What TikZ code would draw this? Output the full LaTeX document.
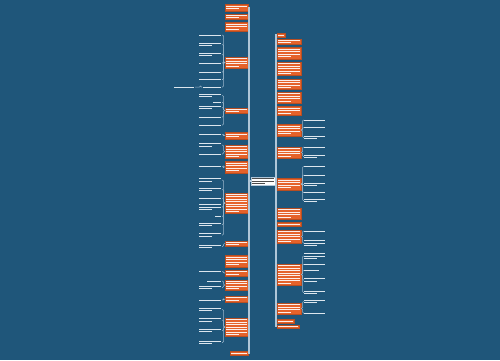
\documentclass[tikz,border=0pt]{standalone}
\usetikzlibrary{calc}
\definecolor{bg}{HTML}{1F567A}
\definecolor{org}{HTML}{E5622A}
\definecolor{trk}{HTML}{AFC6D8}
\definecolor{lt}{HTML}{DCE6EE}
\tikzset{
 onode/.style={fill=org, draw=org!80!black, line width=0.3pt, inner sep=0pt, outer sep=0pt},
 lnode/.style={inner sep=0pt, outer sep=0pt},
 cnode/.style={fill=white, draw=trk, line width=0.4pt, inner sep=0pt, outer sep=0pt},
 trunk/.style={draw=trk, line width=1.3pt},
 brk/.style={draw=trk!85!bg, line width=0.5pt, rounded corners=1pt},
 tline/.style={line width=0.75pt},
}
% text-like stripes: x1 y1 x2 y2 colour
\newcommand\tlns[5]{%
 \pgfmathtruncatemacro\tlN{max(1,round((#4-#2-1)/2.5))}%
 \pgfmathsetmacro\tlS{#2+((#4-#2)-(\tlN-1)*2.5)/2}%
 \foreach \k in {1,...,\tlN}{%
   \pgfmathsetmacro\tlY{\tlS+(\k-1)*2.5}%
   \pgfmathsetmacro\tlE{#3-1.4}%
   \ifnum\k=\tlN\relax\ifnum\tlN>1\relax\pgfmathsetmacro\tlE{#1+1.4+(#3-#1-2.8)*0.6}\fi\fi
   \draw[tline, #5] (#1+1.4,\tlY) -- (\tlE,\tlY);
 }}
\newcommand\onode[5]{%
 \node[onode, minimum width={#4-#2}, minimum height={#5-#3}] (#1) at ({(#2+#4)/2},{(#3+#5)/2}) {};
 \tlns{#2}{#3}{#4}{#5}{white!90!org}}
\newcommand\lleaf[6]{%
 \node[lnode, minimum width={#5-#3}, minimum height={#6-#4}] (#2) at ({(#3+#5)/2},{(#4+#6)/2}) {};
 \draw[brk] (#1.west) -- ++(-1.5,0) |- (#2.east);
 \tlns{#3}{#4}{#5}{#6}{lt}}
\newcommand\rleaf[6]{%
 \node[lnode, minimum width={#5-#3}, minimum height={#6-#4}] (#2) at ({(#3+#5)/2},{(#4+#6)/2}) {};
 \draw[brk] (#1.east) -- ++(1.5,0) |- (#2.west);
 \tlns{#3}{#4}{#5}{#6}{lt}}
\begin{document}
\begin{tikzpicture}[x=1pt,y=-1pt]
\fill[bg] (0,0) rectangle (500,360);
\useasboundingbox (0,0) rectangle (500,360);

% centre
\node[cnode, minimum width=24, minimum height=8] (C) at (263,181) {};
\tlns{251}{177}{275}{185}{black!70}
\coordinate (LT) at (249,181);
\coordinate (RT) at (276,181);

% left main branches
\onode{O1}{225}{4}{248}{11}
\onode{O2}{225}{14}{248}{19}
\onode{O3}{225}{22}{248}{31}
\onode{O4}{225}{57}{248}{68}
\onode{O5}{225}{108}{248}{113}
\onode{O6}{225}{132}{248}{139}
\onode{O7}{225}{145}{248}{158}
\onode{O8}{225}{161}{248}{173}
\onode{O9}{225}{193}{248}{213}
\onode{O10}{225}{241}{248}{246}
\onode{O11}{225}{255}{248}{267}
\onode{O12}{225}{270}{248}{276}
\onode{O13}{225}{280}{248}{290}
\onode{O14}{225}{296}{248}{302}
\onode{O15}{225}{318}{248}{336}
\onode{O16}{230}{351}{248}{355}

% right main branches
\onode{R0}{277}{33}{285}{37}
\onode{R1}{277}{39}{301}{44}
\onode{R2}{277}{47}{301}{59}
\onode{R3}{277}{62}{301}{75}
\onode{R4}{277}{79}{301}{89}
\onode{R5}{277}{92}{301}{103}
\onode{R6}{277}{106}{301}{115}
\onode{R7}{277}{124}{301}{136}
\onode{R8}{277}{147}{301}{158}
\onode{R9}{277}{178}{301}{190}
\onode{R10}{277}{208}{301}{219}
\onode{R11}{277}{222}{301}{226}
\onode{R12}{277}{230}{301}{243}
\onode{R13}{277}{264}{301}{285}
\onode{R14}{277}{303}{301}{314}
\onode{R15}{277}{319}{294}{323}
\onode{R16}{277}{325}{299}{328}

% trunks
\draw[trunk] (C.west) -- (LT);
\draw[trunk] (C.east) -- (RT);
\foreach \o in {O1,O2,O3,O4,O5,O6,O7,O8,O9,O10,O11,O12,O13,O14,O15,O16}
  \draw[trunk] (LT) |- (\o.east);
\foreach \o in {R0,R1,R2,R3,R4,R5,R6,R7,R8,R9,R10,R11,R12,R13,R14,R15,R16}
  \draw[trunk] (RT) |- (\o.west);

% left leaves
\lleaf{O4}{L4a}{198}{33}{222}{37}
\lleaf{O4}{L4b}{198}{42}{222}{47}
\lleaf{O4}{L4c}{198}{52}{222}{57}
\lleaf{O4}{L4d}{198}{61}{222}{65}
\lleaf{O4}{L4e}{198}{70}{222}{74}
\lleaf{O4}{L4f}{198}{78}{222}{81}
\lleaf{O4}{L4g}{202}{85}{222}{89}
\lleaf{L4g}{L4h}{173}{85.5}{195}{88.5}

\lleaf{O5}{L5a}{198}{93}{222}{98}
\lleaf{O5}{L5b}{212}{101}{222}{103.5}
\lleaf{O5}{L5c}{198}{105}{222}{110}
\lleaf{O5}{L5d}{198}{115}{222}{119}
\lleaf{O5}{L5e}{198}{123}{222}{127}

\lleaf{O6}{L6a}{198}{133}{222}{136}
\lleaf{O7}{L7a}{198}{142}{222}{148}
\lleaf{O7}{L7b}{198}{152}{222}{156}
\lleaf{O8}{L8a}{198}{165}{222}{168}

\lleaf{O9}{L9a}{198}{177}{222}{183}
\lleaf{O9}{L9b}{198}{187}{222}{192}
\lleaf{O9}{L9c}{198}{196}{222}{200}
\lleaf{O9}{L9d}{198}{203}{222}{211}
\lleaf{O9}{L9e}{214}{215}{222}{217.5}
\lleaf{O9}{L9f}{198}{222}{222}{227}
\lleaf{O9}{L9g}{198}{232}{222}{238}

\lleaf{O10}{L10a}{198}{244}{222}{249}
\lleaf{O12}{L12a}{198}{270}{222}{273}
\lleaf{O13}{L13a}{206}{279.5}{222}{282.5}
\lleaf{O13}{L13b}{198}{285}{222}{290}
\lleaf{O14}{L14a}{198}{298.5}{222}{301.5}
\lleaf{O15}{L15a}{198}{307}{222}{312}
\lleaf{O15}{L15b}{198}{317}{222}{323}
\lleaf{O15}{L15c}{198}{328}{222}{333}
\lleaf{O15}{L15d}{198}{340}{222}{345}

% right leaves
\rleaf{R7}{S7a}{303}{118}{326}{122}
\rleaf{R7}{S7b}{303}{126}{326}{129}
\rleaf{R7}{S7c}{303}{135}{326}{140}
\rleaf{R8}{S8a}{303}{145}{326}{149}
\rleaf{R8}{S8b}{303}{154}{326}{159}
\rleaf{R9}{S9a}{303}{165}{326}{168}
\rleaf{R9}{S9b}{303}{173}{326}{177}
\rleaf{R9}{S9c}{303}{182}{326}{187}
\rleaf{R9}{S9d}{303}{191}{326}{194}
\rleaf{R9}{S9e}{303}{198}{326}{203}
\rleaf{R12}{S12a}{303}{229}{326}{233}
\rleaf{R12}{S12b}{303}{239}{326}{247}
\rleaf{R13}{S13a}{303}{252}{326}{260}
\rleaf{R13}{S13b}{303}{263}{326}{265.5}
\rleaf{R13}{S13c}{303}{269}{320}{272}
\rleaf{R13}{S13d}{303}{277}{326}{283}
\rleaf{R13}{S13e}{303}{290}{326}{295}
\rleaf{R14}{S14a}{303}{298}{326}{305}
\rleaf{R14}{S14b}{303}{311}{326}{315}
\end{tikzpicture}
\end{document}
